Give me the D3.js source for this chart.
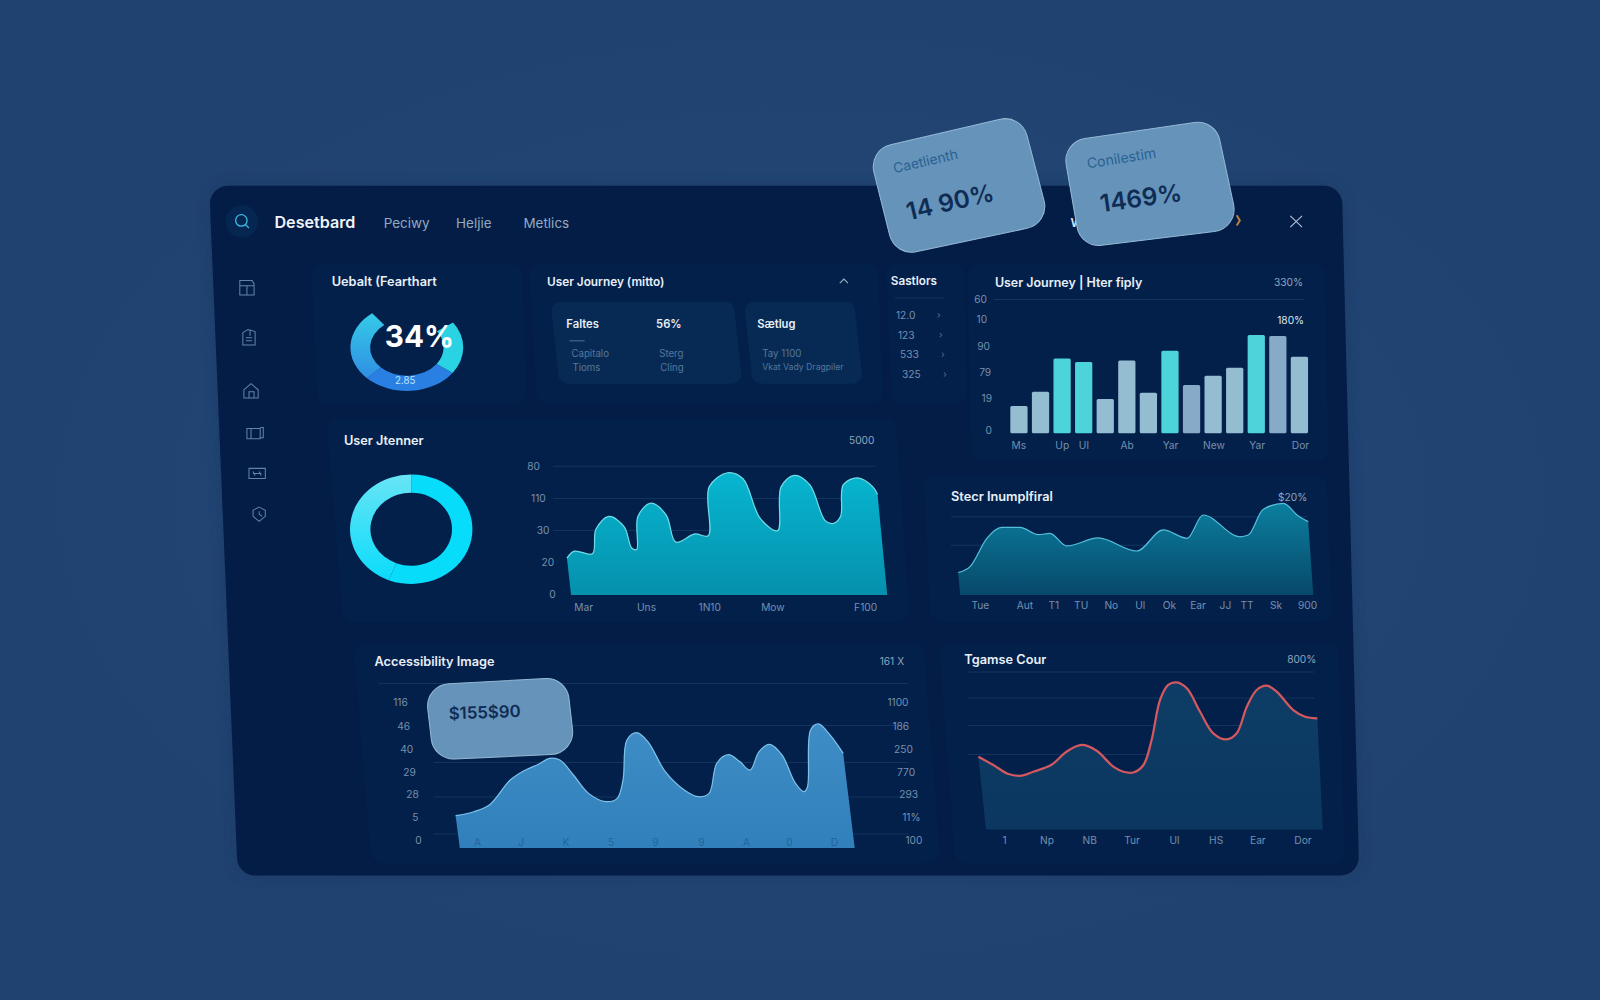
<!DOCTYPE html>
<html>
<head>
  <meta charset="UTF-8">
  <title>Dashboard</title>
  <style>
    html, body { margin: 0; padding: 0; background: #21436f; overflow: hidden; }
    svg { display: block; }
    text { font-family: Inter, "Noto Sans", sans-serif; }
    .domain { display: none; }
    .tick text { fill: #7590ae; font-size: 10px; }
    .title { fill: #e8eff7; font-size: 12.5px; font-weight: 600; }
    .note { fill: #8fa5bd; font-size: 10px; }
    .small { fill: #557799; font-size: 9.5px; }
    .icon { fill: none; stroke: #6484a5; stroke-width: 1; }
  </style>
</head>
<body>
  <svg id="chart" width="1600" height="1000"></svg>
  <script src="https://d3js.org/d3.v7.min.js"></script>
  <script>
    // values, x and y are both on a 0-100 chart scale
    const barCats = ["Ms", "b", "Up", "Ul", "e", "Ab", "g", "Yar", "i", "New", "k", "Yar2", "m", "Dor"];
    const barValues = [20.6, 31.4, 56.5, 53.8, 25.9, 55, 30.7, 62.3, 36.5, 43.5, 49.5, 74.2, 73.4, 57.8];
    const barHighlight = ["Up", "Ul", "Yar", "Yar2"];
    const barMuted = ["i", "m"];
    const barTickCats = ["Ms", "Up", "Ul", "Ab", "Yar", "New", "Yar2", "Dor"];
    const barTickLabels = ["Ms", "Up", "Ul", "Ab", "Yar", "New", "Yar", "Dor"];
    const barYTicks = [2, 26, 46, 65.5, 85.5, 101];
    const barYLabels = ["0", "19", "79", "90", "10", "60"];

    const tealX = [0.2, 2.6, 8.4, 9.5, 13.7, 18.6, 21, 22.6, 23, 27.2, 32.1, 35.2, 41.3, 45.6, 45.9, 51.8, 56.7, 62.3, 67.9, 69, 73.3, 78.2, 83.1, 85.6, 88.1, 89, 93.6, 98.5, 100];
    const tealY = [28.6, 34, 32, 51, 61, 53, 36.5, 35.4, 61, 71.4, 62, 41, 47.4, 46, 84, 95, 90.5, 59.5, 50, 84, 93, 85.7, 58, 55.5, 61, 85.7, 91, 84, 78];
    const tealXTicks = [5.4, 25.6, 45.9, 66.2, 96];
    const tealXLabels = ["Mar", "Uns", "1N10", "Mow", "F100"];
    const tealYTicks = [0, 25, 50, 75, 100];
    const tealYLabels = ["0", "20", "30", "110", "80"];

    const steelX = [0, 3.4, 8.2, 12.4, 17.7, 22.9, 26.2, 31, 40, 51, 58.6, 65.4, 70, 80.5, 82.9, 87.1, 92.9, 97.2, 100];
    const steelY = [24.4, 30.8, 61.6, 73.6, 73.6, 65.6, 67, 53.3, 62, 47.8, 70.7, 61.6, 87, 63.3, 65.2, 93, 99.7, 85.9, 79.8];
    const steelXTicks = [6.2, 18.9, 27.2, 35, 43.6, 51.9, 60.2, 68.4, 76.2, 82.4, 90.7, 99.7];
    const steelXLabels = ["Tue", "Aut", "T1", "TU", "No", "Ul", "Ok", "Ear", "JJ", "TT", "Sk", "900"];
    const steelGrid = [54, 85];

    const blueX = [0, 4.7, 8.7, 14.1, 17.5, 21.5, 24.2, 26.9, 30.4, 34.3, 38.8, 41.7, 43.2, 44.2, 46.7, 49.6, 54.1, 59, 62.5, 65.4, 67.4, 70.4, 73.3, 76, 78.3, 81, 84.2, 87.7, 89.9, 90.8, 91.6, 93.6, 96.6, 100];
    const blueY = [25.3, 28.4, 33.6, 53.3, 60.3, 65.8, 70.2, 69, 57.2, 42.8, 36.3, 38.9, 53.3, 84.6, 90.4, 83.4, 59.8, 45.4, 40.2, 42.8, 66.4, 73.1, 67.7, 61.1, 75.5, 81.2, 72.9, 50.6, 44.1, 48, 92.5, 97.2, 88.6, 74.2];
    const blueXTicks = [5.5, 16.8, 28.3, 40, 51.4, 63.3, 74.9, 86, 97.6];
    const blueXLabels = ["A", "J", "K", "5", "9", "9", "A", "0", "D"];
    const blueYTicks = [6, 24, 42, 59, 77, 95, 114];
    const blueLeftLabels = ["0", "5", "28", "29", "40", "46", "116"];
    const blueRightLabels = ["100", "11%", "293", "770", "250", "186", "1100"];
    const blueGrid = [11, 40, 67, 96];
    const blueTopGrid = [129];

    const redX = [0, 4.4, 8.9, 12.8, 16.2, 21.6, 26, 30.5, 34.9, 39.8, 42.8, 45.7, 48.7, 51.1, 53.6, 56, 58.5, 61.5, 65.4, 69.3, 73.2, 76.2, 79.2, 82.1, 85.1, 88, 92.9, 96.4, 100];
    const redY = [47.6, 42.2, 36.3, 35.2, 37.8, 42.4, 50.9, 55.3, 51.5, 41.1, 37.8, 37.3, 42.2, 58.5, 84.7, 94.5, 96.2, 92.3, 77, 62.9, 58.9, 62.9, 80.3, 91.2, 94, 90.1, 78.1, 73.7, 72.7];
    const redXTicks = [7.6, 20.1, 32.7, 45.2, 57.7, 70, 82.3, 95.6];
    const redXLabels = ["1", "Np", "NB", "Tur", "Ul", "HS", "Ear", "Dor"];
    const redGrid = [49, 68, 86, 103];

    const gaugeNames = ["right", "blue", "left", "gap"];
    const gaugeValues = [19.7, 27.5, 27, 25.8];
    const ringNames = ["main", "light"];
    const ringValues = [56, 44];

    const sectorLabels = ["12.0", "123", "533", "325"];

    let svg = d3.select("#chart").attr("viewBox", "0 0 1568 980");
    let defs = svg.append("defs");

    function gradient(id, stops, x2, y2) {
      let g = defs.append("linearGradient").attr("id", id)
        .attr("x1", 0).attr("y1", 0).attr("x2", x2).attr("y2", y2);
      stops.forEach((c, i) => {
        g.append("stop").attr("offset", i / (stops.length - 1)).attr("stop-color", c);
      });
    }
    gradient("tealFill", ["#07b6d0", "#0590ad"], 0, 1);
    gradient("steelFill", ["#0c7f9e", "#07486b"], 0, 1);
    gradient("blueFill", ["#3f8dc6", "#3180bb"], 0, 1);
    gradient("redFill", ["#0d3d66", "#0b3760"], 0, 1);
    gradient("gaugeLeft", ["#35cbe8", "#2f8fe2"], 0, 1);
    gradient("ringLight", ["#68e4f5", "#0bdcfb"], 0, 1);

    defs.append("radialGradient").attr("id", "page")
      .selectAll("stop").data(["#24497a", "#204270"]).enter().append("stop")
      .attr("offset", (d, i) => i).attr("stop-color", d => d);
    defs.append("filter").attr("id", "soft").attr("x", "-10%").attr("y", "-10%").attr("width", "120%").attr("height", "120%")
      .append("feGaussianBlur").attr("stdDeviation", 6);

    // polygon with rounded corners
    function roundPoly(pts, r) {
      let p = d3.path();
      let n = pts.length;
      p.moveTo((pts[0][0] + pts[n - 1][0]) / 2, (pts[0][1] + pts[n - 1][1]) / 2);
      pts.forEach((c, i) => {
        let next = pts[(i + 1) % n];
        p.arcTo(c[0], c[1], next[0], next[1], r);
      });
      p.closePath();
      return p.toString();
    }

    svg.append("rect").attr("width", 1568).attr("height", 980).attr("fill", "url(#page)");

    let panelShape = [[205, 182], [1315, 182], [1332, 858], [233, 858]];
    svg.append("path").attr("d", roundPoly(panelShape, 18)).attr("fill", "#16325a")
      .attr("filter", "url(#soft)").attr("opacity", 0.5);
    svg.append("path").attr("d", roundPoly(panelShape, 18)).attr("fill", "#031d46");

    // faint cards behind the charts
    let cards = [
      [[305, 258], [512, 258], [516, 396], [311, 396]],
      [[518, 258], [860, 258], [866, 396], [526, 396]],
      [[868, 258], [945, 258], [948, 396], [874, 396]],
      [[948, 258], [1298, 258], [1302, 452], [952, 452]],
      [[320, 410], [878, 410], [892, 610], [336, 610]],
      [[905, 466], [1300, 466], [1306, 610], [912, 610]],
      [[346, 630], [905, 630], [922, 846], [364, 846]],
      [[920, 630], [1312, 630], [1318, 846], [936, 846]]
    ];
    svg.append("g").selectAll("path").data(cards).enter().append("path")
      .attr("d", d => roundPoly(d, 12)).attr("fill", "#03204b");

    function addText(x, y, str, cls, anchor) {
      return svg.append("text").attr("x", x).attr("y", y).attr("dy", "0.35em")
        .attr("class", cls || null).attr("text-anchor", anchor || "start").text(str);
    }

    // header
    svg.append("circle").attr("cx", 237).attr("cy", 217).attr("r", 16).attr("fill", "#052650");
    svg.append("circle").attr("cx", 236.5).attr("cy", 216).attr("r", 5.6).attr("fill", "none").attr("stroke", "#3fb6e2").attr("stroke-width", 1.3);
    svg.append("path").attr("d", "M240.6 220 L244 223.6").attr("stroke", "#3fb6e2").attr("stroke-width", 1.3);
    addText(269, 218, "Desetbard").attr("fill", "#f0f5fa").attr("font-size", 15.8).attr("font-weight", 600);
    [[376, "Peciwy"], [447, "Heljie"], [513, "Metlics"]].forEach(d => {
      addText(d[0], 219, d[1]).attr("fill", "#93a9c2").attr("font-size", 13.2);
    });
    addText(1049, 218, "W").attr("fill", "#dfe8f1").attr("font-size", 12).attr("font-weight", 600);
    svg.append("path").attr("d", "M1212 211 L1215 216 L1212 221").attr("fill", "none").attr("stroke", "#b5803f").attr("stroke-width", 2);
    svg.append("path").attr("d", "M1264.5 211.5 L1276 222.5 M1276 211.5 L1264.5 222.5").attr("stroke", "#b3c4d6").attr("stroke-width", 1.1);

    // sidebar icons
    let icons = [
      [242, 282, "M-7 -7 H5 L7 -4 V7 H-7 Z M-7 -2 H7 M0 -2 V7"],
      [244, 331, "M-6 -5 L-1 -8 L6 -6 V7 H-6 Z M-3 0 H3 M-3 3 H3 M1 -8 V-2"],
      [246, 383, "M-7 -1 L0 -7 L7 -1 V7 H-7 Z M-2 7 V1 H3 V7"],
      [250, 424, "M-8 -4 H5 V6 H-8 Z M5 -5 H8 V5 H5 M-4 -4 V6"],
      [252, 464, "M-8 -5 H8 V5 H-8 Z M-4 0 H4 M-4 -2 L-2 2 M2 -2 L4 2"],
      [254, 504, "M0 -7 L6 -4 V2 L0 7 L-6 2 V-4 Z M0 -3 V0 L3 2"]
    ];
    svg.append("g").selectAll("path").data(icons).enter().append("path")
      .attr("class", "icon").attr("transform", d => "translate(" + d[0] + "," + d[1] + ")").attr("d", d => d[2]);

    // gauge, squashed a bit like the rest of the tilted board
    let pie = d3.pie().sort(null).value(d => d);
    let gaugeColor = d3.scaleOrdinal().domain(gaugeNames).range(["#2ad3e4", "#2a7fe2", "url(#gaugeLeft)", "none"]);
    let gauge = svg.append("g").attr("transform", "translate(398.7,340.5) scale(1,0.77)");
    gauge.selectAll("path")
      .data(pie.startAngle(55 * Math.PI / 180).endAngle(415 * Math.PI / 180)(gaugeValues))
      .enter().append("path")
      .attr("d", d3.arc().innerRadius(36).outerRadius(55.3))
      .attr("fill", (d, i) => gaugeColor(gaugeNames[i]));
    addText(411, 330, "34%", null, "middle").attr("fill", "#fff").attr("font-size", 29).attr("font-weight", 700);
    addText(397, 373, "2.85", null, "middle").attr("fill", "#bfe3ff").attr("font-size", 9.5);

    // second ring
    let ringColor = d3.scaleOrdinal().domain(ringNames).range(["#07dcfb", "url(#ringLight)"]);
    let ring = svg.append("g").attr("transform", "translate(403,518.6) scale(1,0.895)");
    ring.selectAll("path")
      .data(pie.startAngle(0).endAngle(2 * Math.PI)(ringValues))
      .enter().append("path")
      .attr("d", d3.arc().innerRadius(40).outerRadius(60))
      .attr("fill", (d, i) => ringColor(ringNames[i]));

    // titles and notes
    addText(325, 276, "Uebalt (Fearthart", "title").attr("font-size", 12.2);
    addText(536, 276, "User Journey (mitto)", "title").style("font-size", "11.6px");
    svg.append("path").attr("d", "M823 277.5 L827 273.5 L831 277.5").attr("fill", "none").attr("stroke", "#9fb4ca");
    addText(873, 275, "Sastlors", "title").style("font-size", "11.5px");
    addText(975, 277, "User Journey | Hter fiply", "title").style("font-size", "12.2px");
    addText(1277, 277, "330%", "note", "end");
    addText(1278, 314, "180%", "note", "end").style("fill", "#dde7f0");
    addText(337, 432, "User Jtenner", "title");
    addText(857, 432, "5000", "note", "end");
    addText(932, 487, "Stecr Inumplfiral", "title");
    addText(1281, 487, "$20%", "note", "end");
    addText(367, 648, "Accessibility Image", "title");
    addText(886, 648, "161 X", "note", "end");
    addText(945, 646, "Tgamse Cour", "title");
    addText(1290, 646, "800%", "note", "end");

    // two tiles inside the journey card
    let tiles = [
      [[539.4, 295.6], [718.8, 295.6], [727.6, 376], [548.2, 376]],
      [[729, 295.6], [837, 295.6], [845.7, 376], [737.6, 376]]
    ];
    svg.append("g").selectAll("path").data(tiles).enter().append("path")
      .attr("d", d => roundPoly(d, 9)).attr("fill", "#072a55");
    addText(555, 317.5, "Faltes", "title").style("font-size", "11px");
    addText(643, 317.5, "56%", "title").style("font-size", "11px");
    addText(742, 317.5, "Sætlug", "title").style("font-size", "11px");
    svg.append("path").attr("d", "M558 334 H573").attr("stroke", "#4d6f94");
    addText(560, 347, "Capitalo", "small");
    addText(561, 360, "Tioms", "small");
    addText(646, 347, "Sterg", "small");
    addText(647, 360, "Cling", "small");
    addText(747, 347, "Tay 1100", "small");
    addText(747, 360, "Vkat Vady Dragpiler", "small").style("font-size", "8.5px");

    // sector list
    svg.append("path").attr("d", "M877 292 H925").attr("stroke", "#123560");
    let sectorY = d3.scalePoint().domain(sectorLabels).range([309, 367]);
    let sectorX = d3.scaleLinear().domain([309, 367]).range([878, 884]);
    svg.append("g").selectAll("text").data(sectorLabels).enter().append("text")
      .attr("x", d => sectorX(sectorY(d))).attr("y", d => sectorY(d)).attr("dy", "0.35em")
      .attr("fill", "#7590ae").attr("font-size", 10).text(d => d);
    svg.append("g").selectAll("path").data(sectorLabels).enter().append("path")
      .attr("d", d => {
        let x = sectorX(sectorY(d)) + 41, y = sectorY(d);
        return "M" + x + " " + (y - 2) + " L" + (x + 2) + " " + y + " L" + x + " " + (y + 2);
      })
      .attr("fill", "none").attr("stroke", "#3f5f84");

    // y axis whose labels lean with the board
    function leanAxis(y, ticks, labels, xTop, xBottom) {
      let lean = d3.scaleLinear().domain([y(ticks[ticks.length - 1]), y(ticks[0])]).range([xTop, xBottom]);
      let g = svg.append("g").call(d3.axisLeft(y).tickValues(ticks).tickSize(0).tickPadding(0)
        .tickFormat((d, i) => labels[i]));
      g.selectAll(".tick").attr("transform", d => "translate(" + lean(y(d)) + "," + y(d) + ")");
      g.selectAll("text").attr("text-anchor", "middle");
      return g;
    }

    function xAxis(x, ticks, labels, y) {
      return svg.append("g").attr("transform", "translate(0," + y + ")")
        .call(d3.axisBottom(x).tickValues(ticks).tickSize(0).tickPadding(0)
          .tickFormat((d, i) => labels[i]));
    }

    function gridLines(y, values, x0, x1) {
      svg.append("g").selectAll("line").data(values).enter().append("line")
        .attr("x1", x0).attr("x2", x1).attr("y1", d => y(d)).attr("y2", d => y(d))
        .attr("stroke", "#12345f").attr("stroke-width", 1);
    }

    // area whose top edge and baseline have different widths, the board is in perspective
    function areaPlot(xs, ys, xTop, xBase, y, fill, stroke, strokeWidth, curve) {
      let rows = xs.map((d, i) => ({ x: d, y: ys[i] }));
      let area = d3.area()
        .curve(curve)
        .x1(d => xTop(d.x))
        .x0(d => xBase(d.x))
        .y1(d => y(d.y))
        .y0(y(0));
      let line = d3.line().curve(curve).x(d => xTop(d.x)).y(d => y(d.y));
      svg.append("path").datum(rows).attr("d", area).attr("fill", fill);
      svg.append("path").datum(rows).attr("d", line).attr("fill", "none")
        .attr("stroke", stroke).attr("stroke-width", strokeWidth);
    }
    let smooth = d3.curveCatmullRom.alpha(0.5);

    // bars
    let barX = d3.scaleBand().domain(barCats).range([988, 1284]).paddingInner(0.2).paddingOuter(0.1);
    let barY = d3.scaleLinear().domain([0, 100]).range([424.7, 294.7]);
    gridLines(barY, [101], 974, 1278);
    leanAxis(barY, barYTicks, barYLabels, 961, 969);
    svg.append("g").selectAll("rect").data(barCats).enter().append("rect")
      .attr("x", d => barX(d))
      .attr("y", (d, i) => barY(barValues[i]))
      .attr("width", barX.bandwidth())
      .attr("height", (d, i) => barY(0) - barY(barValues[i]))
      .attr("rx", 1.5)
      .attr("fill", d => barHighlight.includes(d) ? "#4dd3da" : barMuted.includes(d) ? "#86aac7" : "#95bdd2");
    xAxis(d3.scalePoint().domain(barCats).range([998, 1274]), barTickCats, barTickLabels, 433);

    // teal
    let tealYs = d3.scaleLinear().domain([0, 100]).range([583, 457]);
    gridLines(tealYs, [100, 75, 50], 542, 858);
    leanAxis(tealYs, tealYTicks, tealYLabels, 523, 541.5);
    areaPlot(tealX, tealY, d3.scaleLinear().domain([0, 100]).range([555, 860]),
      d3.scaleLinear().domain([0, 100]).range([559, 869.5]), tealYs, "url(#tealFill)", "#6fdde8", 1.2, smooth);
    xAxis(d3.scaleLinear().domain([0, 100]).range([555, 860]), tealXTicks, tealXLabels, 592);

    // steel
    let steelYs = d3.scaleLinear().domain([0, 100]).range([583, 493]);
    gridLines(steelYs, steelGrid, 932, 1281);
    areaPlot(steelX, steelY, d3.scaleLinear().domain([0, 100]).range([939, 1282]),
      d3.scaleLinear().domain([0, 100]).range([941, 1287]), steelYs, "url(#steelFill)", "#55bedb", 1.2, d3.curveMonotoneX);
    xAxis(d3.scaleLinear().domain([0, 100]).range([939, 1282]), steelXTicks, steelXLabels, 590);

    // blue
    let blueYs = d3.scaleLinear().domain([0, 100]).range([831, 706]);
    gridLines(blueYs, blueGrid, 425, 890);
    gridLines(blueYs, blueTopGrid, 371, 890);
    leanAxis(blueYs, blueYTicks, blueLeftLabels, 392.5, 410);
    leanAxis(blueYs, blueYTicks, blueRightLabels, 880, 895.7);
    areaPlot(blueX, blueY, d3.scaleLinear().domain([0, 100]).range([446.5, 826.3]),
      d3.scaleLinear().domain([0, 100]).range([450.6, 837.6]), blueYs, "url(#blueFill)", "#7cc3ea", 1.2, smooth);
    xAxis(d3.scaleLinear().domain([0, 100]).range([446.5, 826.3]), blueXTicks, blueXLabels, 821.5)
      .selectAll("text").style("fill", "#22629a");

    // red
    let redYs = d3.scaleLinear().domain([0, 100]).range([813, 663]);
    gridLines(redYs, redGrid, 948, 1288);
    areaPlot(redX, redY, d3.scaleLinear().domain([0, 100]).range([958.8, 1291]),
      d3.scaleLinear().domain([0, 100]).range([966.3, 1296.3]), redYs, "url(#redFill)", "#d4585f", 2.2, smooth);
    xAxis(d3.scaleLinear().domain([0, 100]).range([958.8, 1291]), redXTicks, redXLabels, 820);

    // floating glass cards on top of everything
    let floats = [
      [[851, 147], [1001, 112], [1029, 219], [877, 251]],
      [[1041, 139], [1191, 117], [1214, 224], [1059, 243]],
      [[416.5, 671.3], [555.2, 663.8], [563.8, 738.3], [425, 744.8]]
    ];
    svg.append("g").selectAll("path").data(floats).enter().append("path")
      .attr("d", d => roundPoly(d, 22))
      .attr("fill", "#6693ba").attr("stroke", "#94b9d4").attr("stroke-width", 1);

    function tilted(x, y, angle, str, size, weight, color) {
      svg.append("text").attr("text-anchor", "middle").attr("dy", "0.35em")
        .attr("transform", "translate(" + x + "," + y + ") rotate(" + angle + ")")
        .attr("font-size", size).attr("font-weight", weight).attr("fill", color).text(str);
    }
    tilted(907, 158, -13, "Caetlienth", 13.5, 400, "#2a6292");
    tilted(931, 198, -13, "14 90%", 24, 600, "#0f2c55");
    tilted(1099, 155, -9, "Conilestim", 13.8, 400, "#2a6292");
    tilted(1118, 194, -8, "1469%", 24, 600, "#0f2c55");
    tilted(475, 698, -2, "$155$90", 16.5, 600, "#0f2c55");
  </script>
</body>
</html>
